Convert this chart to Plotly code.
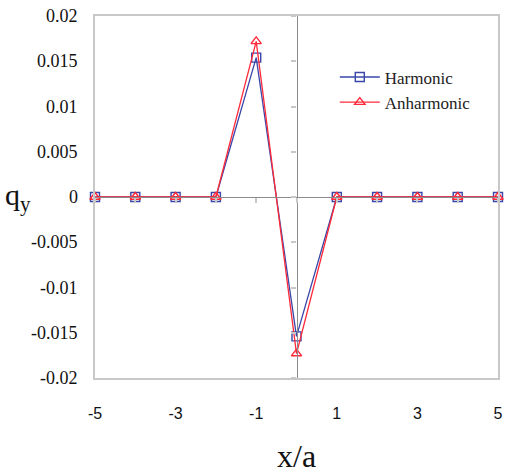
import plotly.graph_objects as go

x_vals = [-5, -4, -3, -2, -1, 0, 1, 2, 3, 4, 5]
harmonic = [0, 0, 0, 0, 0.0154, -0.0154, 0, 0, 0, 0, 0]
anharmonic = [0, 0, 0, 0, 0.0172, -0.0173, 0, 0, 0, 0, 0]

x_ticks = [-5, -3, -1, 1, 3, 5]
y_ticks = [0.02, 0.015, 0.01, 0.005, 0, -0.005, -0.01, -0.015, -0.02]
y_tick_text = ["0.02", "0.015", "0.01", "0.005", "0", "-0.005", "-0.01", "-0.015", "-0.02"]

blue = "#3a46a8"
red = "#ff2a3a"
frame = "#c8c8c8"
zero = "#8c8c8c"
serif = "Liberation Serif"

fig = go.Figure()
fig.add_trace(go.Scatter(
    x=x_vals, y=harmonic, name="Harmonic", mode="lines+markers",
    line=dict(color=blue, width=1.3),
    marker=dict(symbol="square-open", size=9, color=blue, line=dict(width=1.4)),
    cliponaxis=False,
))
fig.add_trace(go.Scatter(
    x=x_vals, y=anharmonic, name="Anharmonic", mode="lines+markers",
    line=dict(color=red, width=1.3),
    marker=dict(symbol="triangle-up-open", size=9, color=red, line=dict(width=1.4)),
    cliponaxis=False,
))
# invisible trace to activate the zero-crossing axes
fig.add_trace(go.Scatter(x=[-5, 5], y=[0, 0], xaxis="x2", yaxis="y2",
                         mode="lines", line=dict(width=0), showlegend=False,
                         hoverinfo="skip"))

# y tick labels as serif text placed through the y data scale
y_label_annotations = [
    dict(text=t, xref="paper", yref="y", x=-0.037, y=v,
         xanchor="right", yanchor="middle", showarrow=False,
         font=dict(family=serif, size=18, color="#111"))
    for v, t in zip(y_ticks, y_tick_text)
]

fig.update_layout(
    width=505, height=475,
    margin=dict(l=95, r=7, t=16, b=97, autoexpand=False),
    paper_bgcolor="white", plot_bgcolor="white",
    font=dict(family=serif),
    showlegend=True,
    legend=dict(x=0.595, y=0.88, xanchor="left", yanchor="top",
                font=dict(family=serif, size=17, color="#222"),
                bgcolor="rgba(0,0,0,0)", tracegroupgap=8, itemwidth=40),
    xaxis=dict(range=[-5, 5], tickvals=x_ticks, ticktext=[str(v) for v in x_ticks],
               showgrid=False, zeroline=False, showline=True, mirror=True,
               linecolor=frame, linewidth=1.5, ticks="", automargin=False,
               tickfont=dict(family="Liberation Sans", size=16, color="#111"),
               ticklabelstandoff=20),
    yaxis=dict(range=[-0.02, 0.02], tickvals=y_ticks, showticklabels=False,
               showgrid=False, zeroline=False, showline=True, mirror=True,
               linecolor=frame, linewidth=1.5, ticks="", automargin=False),
    xaxis2=dict(overlaying="x", anchor="free", position=0.5, side="bottom",
                range=[-5, 5], tickvals=x_vals, showticklabels=False,
                ticks="outside", ticklen=5, tickcolor=frame, tickwidth=1.5,
                showline=True, linecolor=zero, linewidth=1.2, automargin=False,
                showgrid=False, zeroline=False),
    yaxis2=dict(overlaying="y", anchor="free", position=0.5, side="left",
                range=[-0.02, 0.02], tickvals=y_ticks, showticklabels=False,
                ticks="outside", ticklen=5, tickcolor=frame, tickwidth=1.5,
                showline=True, linecolor=zero, linewidth=1.2, automargin=False,
                showgrid=False, zeroline=False),
    annotations=y_label_annotations + [
        dict(text="q<sub>y</sub>", xref="paper", yref="paper",
             x=-0.19, y=0.5, xanchor="center", yanchor="middle",
             showarrow=False,
             font=dict(family=serif, size=30, color="#111")),
        dict(text="x/a", xref="paper", yref="paper",
             x=0.5, y=-0.215, xanchor="center", yanchor="middle",
             showarrow=False,
             font=dict(family=serif, size=32, color="#111")),
    ],
)

fig.write_html("out.html", config={"displayModeBar": False},
               post_script="document.body.style.margin='0';document.body.style.overflow='hidden';")
